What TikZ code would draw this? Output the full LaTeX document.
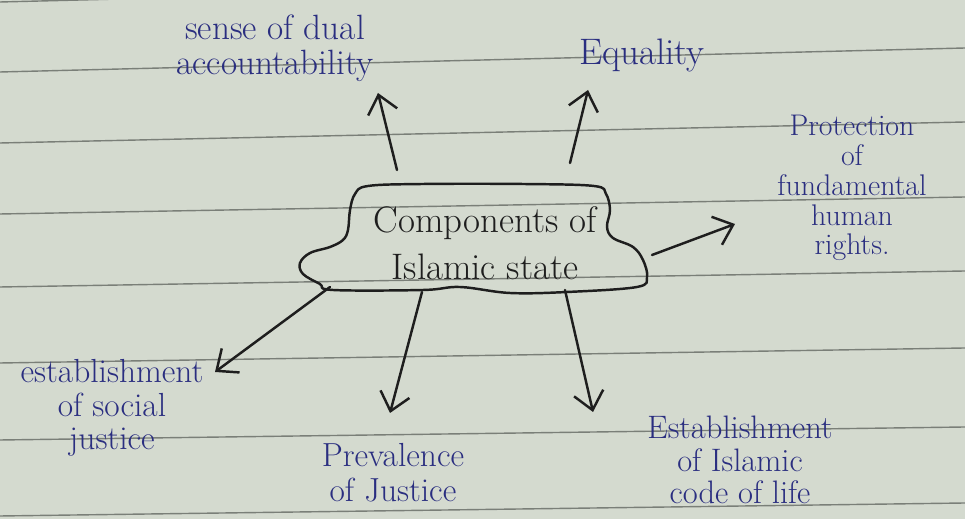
\documentclass[tikz,border=0pt]{standalone}
\usepackage{fontspec}
\usepackage{tikz}
\usetikzlibrary{arrows.meta}
\definecolor{paper}{RGB}{212,218,207}
\definecolor{ruling}{RGB}{122,127,120}
\definecolor{ink}{RGB}{42,46,128}
\definecolor{pencil}{RGB}{30,30,30}
\tikzset{
  handtext/.style={text=ink, align=center, inner sep=0pt, font=\fontsize{19}{19}\selectfont},
  ruleline/.style={ruling, line width=0.8pt},
  inkline/.style={pencil, line width=1.4pt}
}

\begin{document}
\begin{tikzpicture}[x=0.02cm, y=-0.02cm, >={Straight Barb[length=10pt,width=17pt]}, line cap=round, line join=round]
  \fill[paper] (0,0) rectangle (965,519);
  \useasboundingbox (0,0) rectangle (965,519);
  \clip (0,0) rectangle (965,519);
  % ruled lines of the page
  \foreach \l/\r in {2/-22,72/48,143/122,214/197,287/271,363/348,440/427,516/503}
    \draw[ruleline] (0,\l) -- (965,\r);

  % centre cloud
  \draw[inkline] plot[smooth cycle, tension=0.6] coordinates {
    (368,186) (423,184) (523,184) (594,186) (606,194) (610,210) (607,227)
    (613,238) (633,247) (643,260) (647,277) (637,287) (567,292) (510,293)
    (460,287) (423,290) (333,290) (320,284) (303,274) (300,263) (310,253)
    (330,247) (343,240) (348,230) (350,210) (355,194)};
  \node[handtext, text=pencil, font=\fontsize{21}{27}\selectfont] (hub) at (485,243) {Components of\\Islamic state};

  \node[handtext, font=\fontsize{20}{20}\selectfont] (dual) at (275,48) {sense of dual\\accountability};
  \node[handtext, font=\fontsize{21}{21}\selectfont] (equal) at (642,55) {Equality};
  \node[handtext, font=\fontsize{17}{17}\selectfont] (rights) at (852,188) {Protection\\of\\fundamental\\human\\rights.};
  \node[handtext] (social) at (112,408) {establishment\\of social\\justice};
  \node[handtext, font=\fontsize{19}{20}\selectfont] (justice) at (393,473) {Prevalence\\of Justice};
  \node[handtext, font=\fontsize{18.5}{18.5}\selectfont] (code) at (740,460) {Establishment\\of Islamic\\code of life};

  % arrow ends
  \coordinate (dual-from) at (397,170);
  \coordinate (dual-to) at (378,93);
  \coordinate (equal-from) at (570,163);
  \coordinate (equal-to) at (588,90);
  \coordinate (rights-from) at (652,255);
  \coordinate (rights-to) at (735,224);
  \coordinate (social-from) at (330,287);
  \coordinate (social-to) at (215,372);
  \coordinate (justice-from) at (422,292);
  \coordinate (justice-to) at (390,413);
  \coordinate (code-from) at (565,290);
  \coordinate (code-to) at (593,412);

  \draw[inkline, ->] (dual-from) -- (dual-to);
  \draw[inkline, ->] (equal-from) -- (equal-to);
  \draw[inkline, ->] (rights-from) -- (rights-to);
  \draw[inkline, ->] (social-from) -- (social-to);
  \draw[inkline, ->] (justice-from) -- (justice-to);
  \draw[inkline, ->] (code-from) -- (code-to);
\end{tikzpicture}
\end{document}
